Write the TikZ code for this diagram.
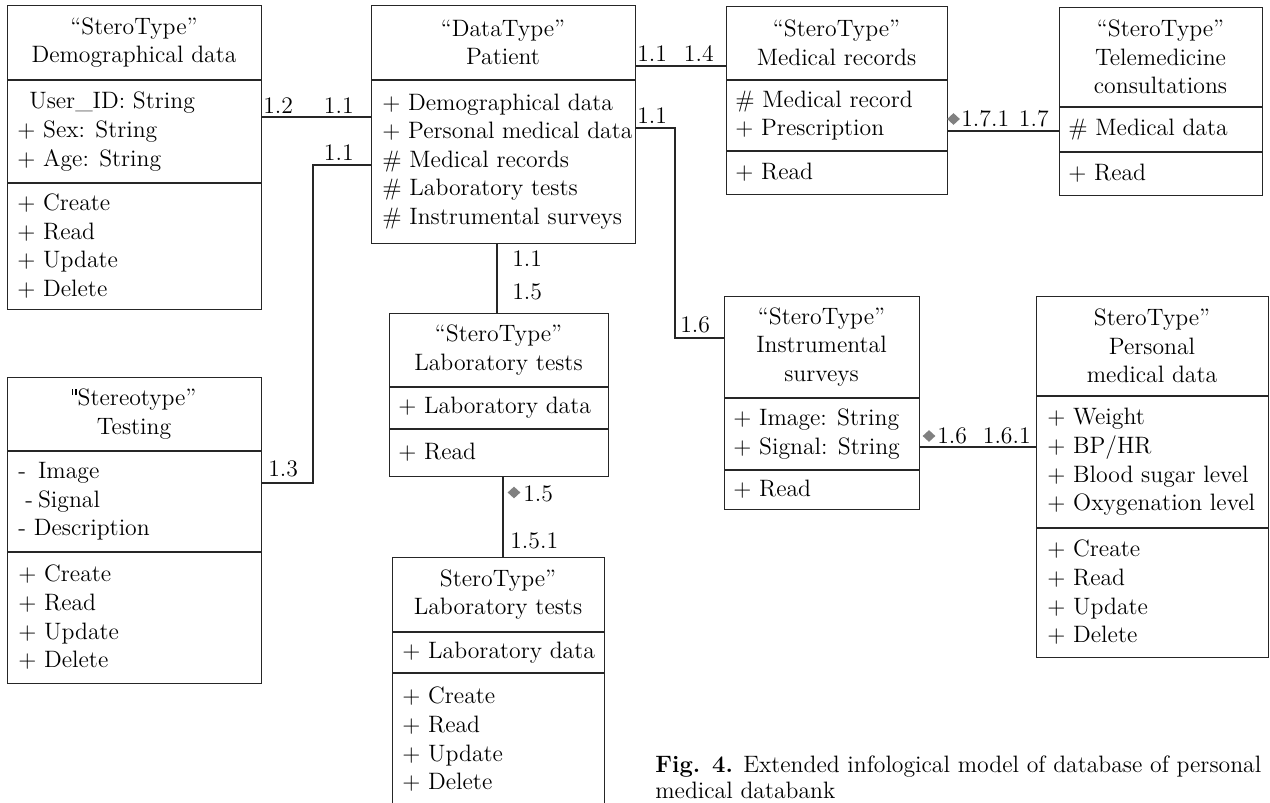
\documentclass[tikz,border=0pt]{standalone}
\usepackage{fontspec}
\usetikzlibrary{shapes.geometric}
\newcommand{\umlfont}{\fontsize{13.5}{16.3}\selectfont}
\newcommand{\sq}{\rule[0.44em]{0.06em}{0.25em}\hspace{0.1em}\rule[0.44em]{0.06em}{0.25em}\hspace{0.04em}}
\tikzset{
  umlbox/.style 2 args={draw=black!85, line width=0.7pt, anchor=north west, inner sep=0pt, minimum width=#1*0.02cm, minimum height=#2*0.02cm},
  part/.style={draw=black!85, line width=0.7pt},
  link/.style={draw=black!85, line width=0.7pt},
  head/.style={align=center, inner sep=0pt, font=\umlfont},
  list/.style={align=left, anchor=west, inner sep=0pt, font=\umlfont},
  mult/.style={inner sep=0pt, font=\umlfont},
  agg/.style={diamond, fill=black!50, inner sep=0pt, minimum width=0.26cm, minimum height=0.24cm}
}
\begin{document}
\begin{tikzpicture}[x=0.02cm, y=-0.02cm]
\useasboundingbox (0,0) rectangle (1270,803);

\node[umlbox={254}{304}] (demo) at (7,5) {};
\node[umlbox={264}{238}] (patient) at (371,5) {};
\node[umlbox={221}{188}] (medrec) at (726,6) {};
\node[umlbox={203}{188}] (tele) at (1059,7) {};
\node[umlbox={254}{306}] (testing) at (7,377) {};
\node[umlbox={219}{163}] (lab1) at (389,313) {};
\node[umlbox={212}{249}] (lab2) at (392,557) {};
\node[umlbox={195}{213}] (instr) at (724,296) {};
\node[umlbox={232}{361}] (pers) at (1036,296) {};

\foreach \b/\y in {demo/80, demo/183, patient/80, medrec/80, medrec/151, tele/107, tele/152,
  testing/451, testing/552, lab1/387, lab1/429, lab2/632, lab2/673, instr/398, instr/470, pers/396, pers/528}
  \draw[part] (\b.west |- 0,\y) -- (\b.east |- 0,\y);

\node[head] (demoH) at (134,42.5) {“SteroType”\\Demographical data};
\node[list] (demoA) at (17,131.5) {\hspace*{0.24cm}User\_ID: String\\+ Sex: String\\+ Age: String};
\node[list] (demoM) at (17,246) {+ Create\\+ Read\\+ Update\\+ Delete};

\node[head] (patientH) at (503,42.5) {“DataType”\\Patient};
\node[list] (patientA) at (382,161.5) {+ Demographical data\\+ Personal medical data\\\# Medical records\\\# Laboratory tests\\\# Instrumental surveys};

\node[head] (medrecH) at (836.5,43) {“SteroType”\\Medical records};
\node[list] (medrecA) at (735,115.5) {\# Medical record\\+ Prescription};
\node[list] (medrecM) at (735,172.5) {+ Read};

\node[head] (teleH) at (1160.5,57) {“SteroType”\\Telemedicine\\consultations};
\node[list] (teleA) at (1068,129.5) {\# Medical data};
\node[list] (teleM) at (1068,173.5) {+ Read};

\node[head] (testingH) at (134,414) {\sq Stereotype”\\Testing};
\node[list] (testingA) at (18,501.5) {-\hspace*{0.24cm}Image\\\hspace*{0.14cm}-\hspace*{0.1cm}Signal\\- Description};
\node[list] (testingM) at (18,617.5) {+ Create\\+ Read\\+ Update\\+ Delete};

\node[head] (lab1H) at (498.5,350) {“SteroType”\\Laboratory tests};
\node[list] (lab1A) at (398,408) {+ Laboratory data};
\node[list] (lab1M) at (398,452.5) {+ Read};

\node[head] (lab2H) at (498,594.5) {SteroType”\\Laboratory tests};
\node[list] (lab2A) at (402,652.5) {+ Laboratory data};
\node[list] (lab2M) at (402,739.5) {+ Create\\+ Read\\+ Update\\+ Delete};

\node[head] (instrH) at (821.5,347) {“SteroType”\\Instrumental\\surveys};
\node[list] (instrA) at (733,434) {+ Image: String\\+ Signal: String};
\node[list] (instrM) at (733,489.5) {+ Read};

\node[head] (persH) at (1152,346) {SteroType”\\Personal\\medical data};
\node[list] (persA) at (1047,462) {+ Weight\\+ BP/HR\\+ Blood sugar level\\+ Oxygenation level};
\node[list] (persM) at (1047,592.5) {+ Create\\+ Read\\+ Update\\+ Delete};

\coordinate (jT) at (313,483);
\coordinate (jI) at (675,338);

\draw[link] (demo.east |- 0,117) -- (patient.west |- 0,117);
\draw[link] (patient.west |- 0,165) -| (jT) -- (testing.east |- jT);
\draw[link] (patient.east |- 0,66) -- (medrec.west |- 0,66);
\draw[link] (patient.east |- 0,128) -| (jI) -- (instr.west |- jI);
\draw[link] (patient.south -| 497,0) -- (lab1.north -| 497,0);
\draw[link] (lab1.south -| 503,0) -- (lab2.north -| 503,0);
\draw[link] (medrec.east |- 0,131) -- (tele.west |- 0,131);
\draw[link] (instr.east |- 0,447) -- (pers.west |- 0,447);

\node[mult, anchor=base west] (m12) at (263,114) {1.2};
\node[mult, anchor=base east] (m11a) at (354,114) {1.1};
\node[mult, anchor=base east] (m11b) at (354,161) {1.1};
\node[mult, anchor=base west] (m13) at (268,476) {1.3};
\node[mult, anchor=base west] (m11c) at (637,62) {1.1};
\node[mult, anchor=base east] (m14) at (714,62) {1.4};
\node[mult, anchor=base west] (m11d) at (637,124) {1.1};
\node[mult, anchor=base west] (m16) at (680,333) {1.6};
\node[mult, anchor=base west] (m11e) at (512,267) {1.1};
\node[mult, anchor=base west] (m15) at (512,300) {1.5};
\node[agg] (d15) at (514,492.5) {};
\node[mult, anchor=base west] (m15b) at (523,501) {1.5};
\node[mult, anchor=base west] (m151) at (510,548) {1.5.1};
\node[agg] (d171) at (953.5,119) {};
\node[mult, anchor=base west] (m171) at (961,127) {1.7.1};
\node[mult, anchor=base east] (m17) at (1049,127) {1.7};
\node[agg] (d16) at (929,436) {};
\node[mult, anchor=base west] (m16b) at (937,443) {1.6};
\node[mult, anchor=base east] (m161) at (1031,443) {1.6.1};

\node[mult, anchor=base west] (capA) at (655,772) {\textbf{Fig. 4.} Extended infological model of database of personal};
\node[mult, anchor=base west] (capB) at (655,798) {medical databank};
\end{tikzpicture}
\end{document}
